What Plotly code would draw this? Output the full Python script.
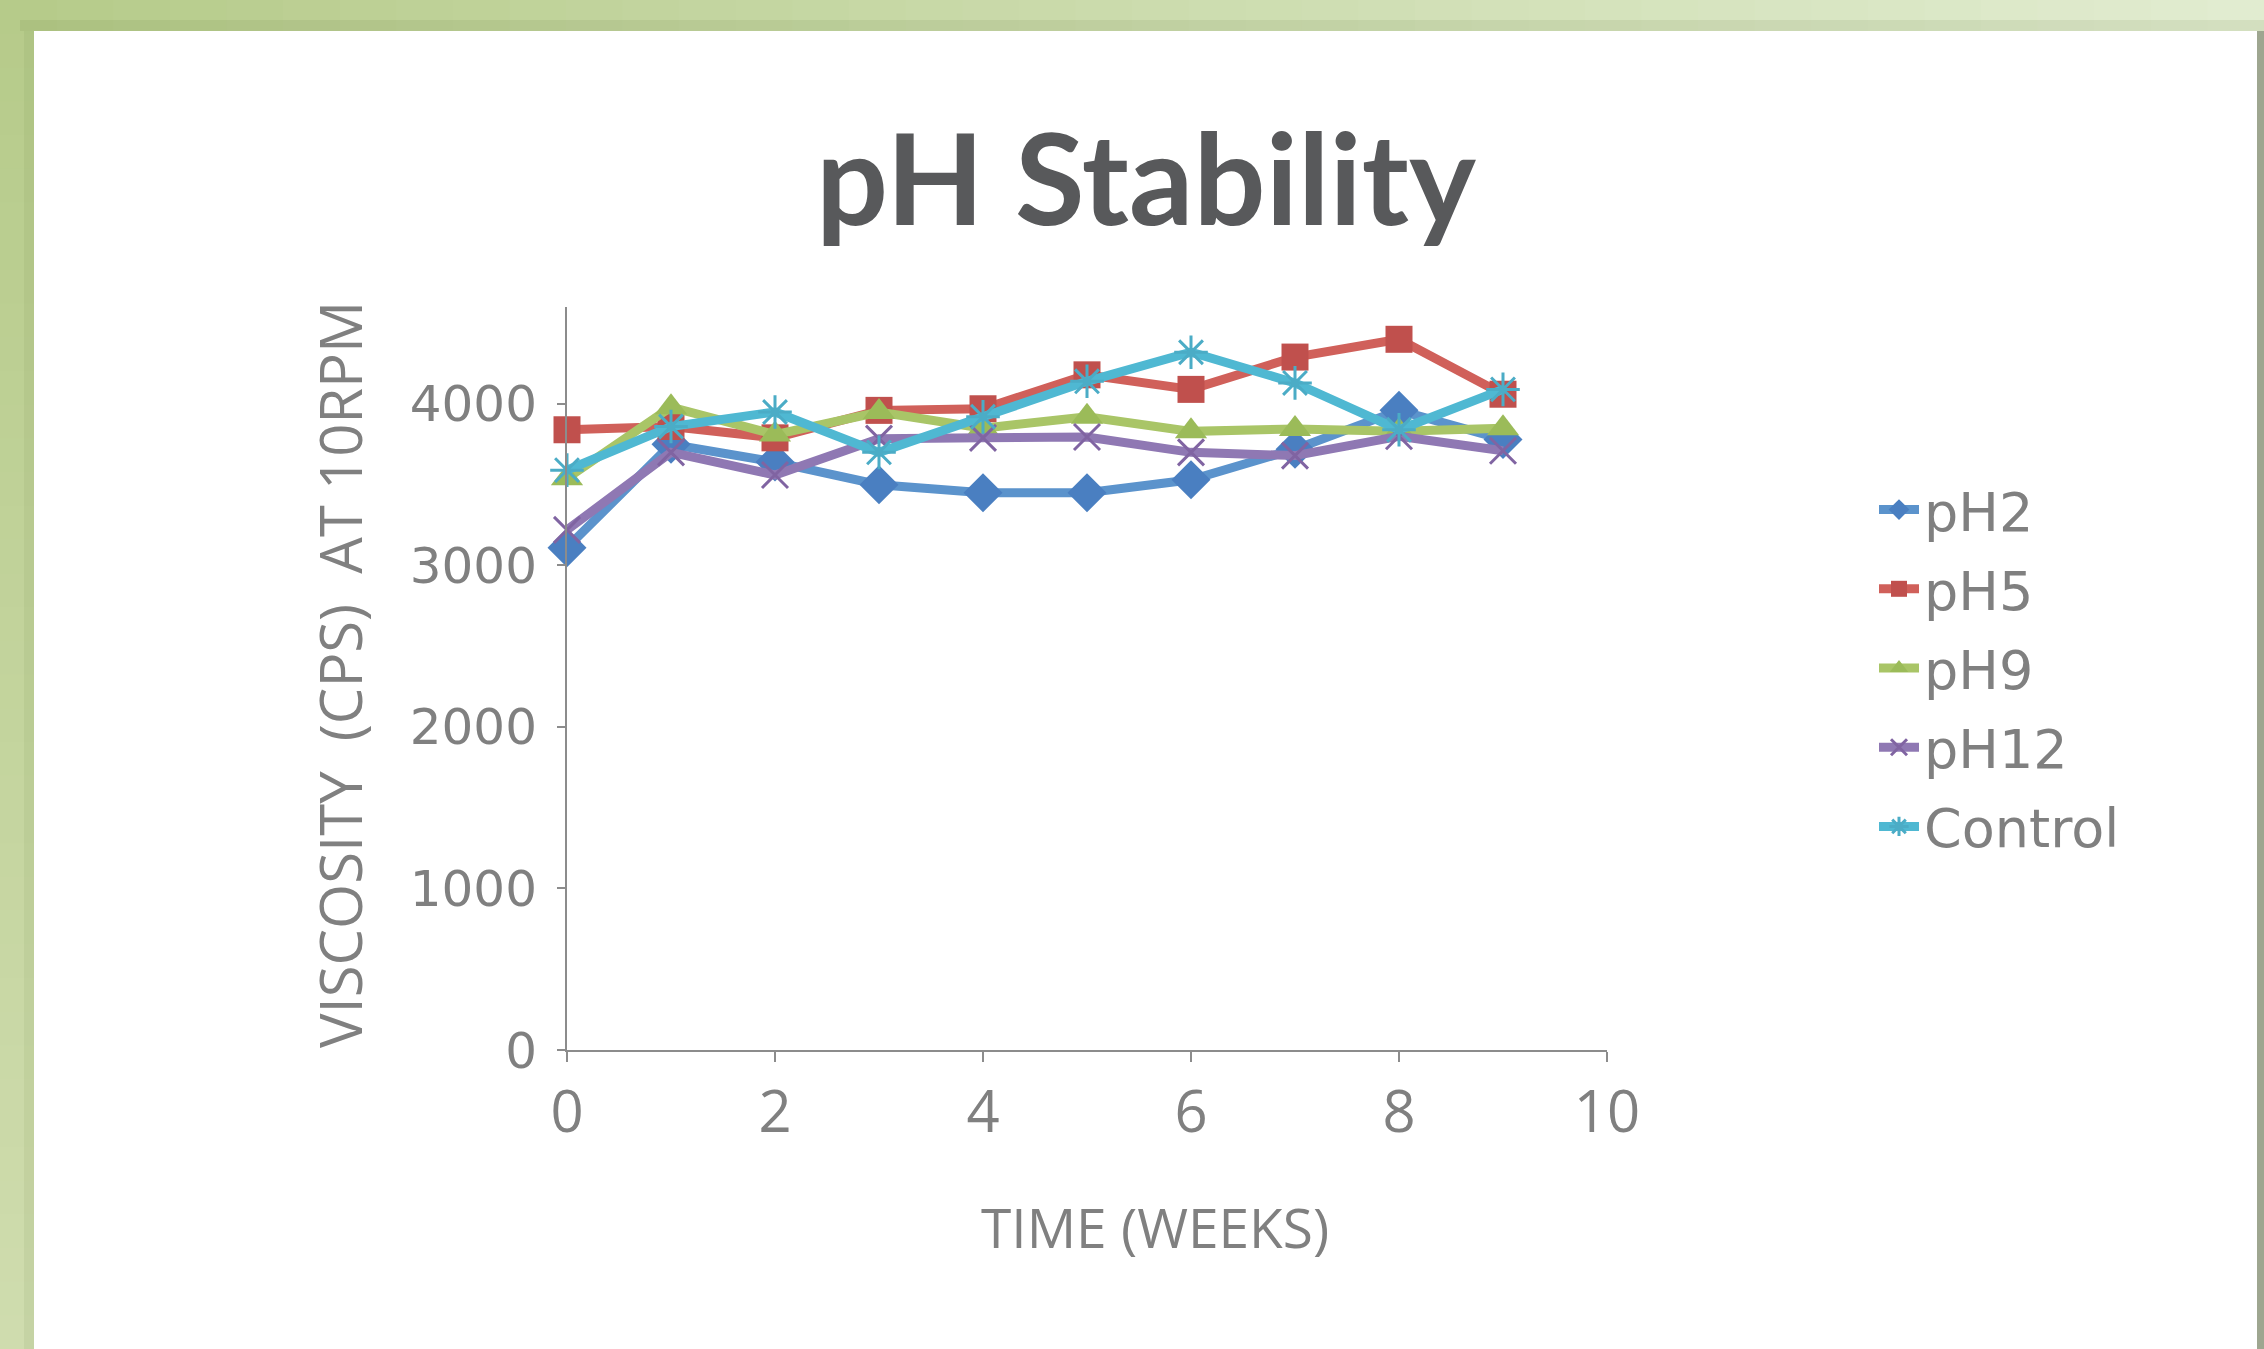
import plotly.graph_objects as go

# ---------------- data ----------------
weeks = [0, 1, 2, 3, 4, 5, 6, 7, 8, 9]
ph2 = [3110, 3750, 3640, 3500, 3450, 3450, 3530, 3720, 3960, 3780]
ph5 = [3840, 3860, 3790, 3960, 3970, 4180, 4090, 4290, 4400, 4060]
ph9 = [3540, 3980, 3810, 3950, 3850, 3920, 3830, 3845, 3830, 3850]
ph12 = [3220, 3700, 3560, 3785, 3790, 3795, 3700, 3680, 3800, 3710]
control = [3590, 3860, 3950, 3700, 3920, 4140, 4320, 4130, 3840, 4090]
series_names = ["pH2", "pH5", "pH9", "pH12", "Control"]
y_ticks = [0, 1000, 2000, 3000, 4000]
x_ticks = [0, 2, 4, 6, 8, 10]

W, H = 2264, 1349
PL, PR, PT, PB = 567, 1607, 307, 1050  # plot area in pixels


def px(xp):
    return (xp - PL) / (PR - PL)


def py(yp):
    return (PB - yp) / (PB - PT)


def lerp(c1, c2, t):
    return "rgb(%d,%d,%d)" % tuple(round(a + (b - a) * t) for a, b in zip(c1, c2))


styles = [
    dict(line="#5b93cc", mk="#4a7fc1", symbol="diamond", size=30, lw=0),
    dict(line="#d0605a", mk="#c0504d", symbol="square", size=27, lw=0),
    dict(line="#a9c567", mk="#9bbb59", symbol="triangle-up", size=28, lw=0),
    dict(line="#8f78b3", mk="#8064a2", symbol="x-thin-open", size=26, lw=3),
    dict(line="#4fb8d2", mk="#4bacc6", symbol="asterisk-open", size=28, lw=3),
]

fig = go.Figure()
for name, vals, st in zip(series_names, [ph2, ph5, ph9, ph12, control], styles):
    marker = dict(symbol=st["symbol"], size=st["size"], color=st["mk"])
    if st["lw"]:
        marker["line"] = dict(color=st["mk"], width=st["lw"])
    fig.add_trace(go.Scatter(
        x=weeks, y=vals, name=name, mode="lines+markers",
        line=dict(color=st["line"], width=9),
        marker=marker, cliponaxis=False, legendgroup=name,
    ))

# ---------------- background frame ----------------
shapes = []
shapes.append(dict(type="rect", xref="paper", yref="paper", layer="below",
                   x0=px(0), x1=px(W), y0=py(0), y1=py(H),
                   fillcolor="#c6d6a0", line=dict(width=0)))
n = 40
c_left, c_right = (182, 203, 138), (225, 236, 208)
for i in range(n):
    x0 = W * i / n
    x1 = W * (i + 1) / n + 1
    shapes.append(dict(type="rect", xref="paper", yref="paper", layer="below",
                       x0=px(x0), x1=px(x1), y0=py(0), y1=py(32),
                       fillcolor=lerp(c_left, c_right, i / (n - 1)), line=dict(width=0)))
c_top, c_bot = (182, 203, 138), (207, 220, 174)
for i in range(n):
    y0 = H * i / n
    y1 = H * (i + 1) / n + 1
    shapes.append(dict(type="rect", xref="paper", yref="paper", layer="below",
                       x0=px(0), x1=px(35), y0=py(y0), y1=py(y1),
                       fillcolor=lerp(c_top, c_bot, i / (n - 1)), line=dict(width=0)))
shapes.append(dict(type="rect", xref="paper", yref="paper", layer="below",
                   x0=px(20), x1=px(W), y0=py(20), y1=py(31),
                   fillcolor="rgba(90,110,50,0.10)", line=dict(width=0)))
shapes.append(dict(type="rect", xref="paper", yref="paper", layer="below",
                   x0=px(24), x1=px(34), y0=py(31), y1=py(H),
                   fillcolor="rgba(90,110,50,0.08)", line=dict(width=0)))
shapes.append(dict(type="rect", xref="paper", yref="paper", layer="below",
                   x0=px(2257), x1=px(W), y0=py(31), y1=py(H),
                   fillcolor="#9ea690", line=dict(width=0)))
shapes.append(dict(type="rect", xref="paper", yref="paper", layer="below",
                   x0=px(34), x1=px(2257), y0=py(31), y1=py(H + 2),
                   fillcolor="#ffffff", line=dict(width=0)))

axis_grey = "#8c8c8c"
text_grey = "#808080"

annotations = [
    dict(text="<b>pH Stability</b>", xref="paper", yref="paper",
         x=px(1146), y=py(176), xanchor="center", yanchor="middle",
         showarrow=False, font=dict(family="Lato", size=127, color="#58595b")),
    dict(text="TIME (WEEKS)", xref="paper", yref="paper",
         x=px(1155), y=py(1226), xanchor="center", yanchor="middle",
         showarrow=False, font=dict(family="Open Sans", size=55, color=text_grey)),
    dict(text="VISCOSITY\u00a0\u00a0(CPS)\u00a0\u00a0AT 10RPM", xref="paper", yref="paper",
         x=px(339), y=py(675), xanchor="center", yanchor="middle", textangle=-90,
         showarrow=False, font=dict(family="Open Sans", size=58, color=text_grey)),
]

fig.update_layout(
    width=W, height=H, autosize=False,
    margin=dict(l=PL, r=W - PR, t=PT, b=H - PB, autoexpand=False),
    paper_bgcolor="#ffffff", plot_bgcolor="rgba(0,0,0,0)",
    shapes=shapes, annotations=annotations,
    showlegend=True,
    legend=dict(x=px(1874), y=py(468), xanchor="left", yanchor="top",
                font=dict(family="DejaVu Sans", size=54, color=text_grey),
                bgcolor="rgba(0,0,0,0)", tracegroupgap=6, traceorder="grouped",
                itemwidth=40),
    xaxis=dict(range=[0, 10], tickvals=x_ticks, showgrid=False, zeroline=False,
               showline=True, linecolor=axis_grey, linewidth=2,
               ticks="outside", ticklen=10, tickcolor=axis_grey, tickwidth=2,
               ticklabelstandoff=0,
               tickfont=dict(family="Open Sans", size=58, color=text_grey)),
    yaxis=dict(range=[0, 4600], tickvals=y_ticks, showgrid=False, zeroline=False,
               showline=True, linecolor=axis_grey, linewidth=2,
               ticks="outside", ticklen=8, tickcolor=axis_grey, tickwidth=2,
               ticklabelstandoff=10,
               tickfont=dict(family="DejaVu Sans", size=50, color=text_grey)),
)

fig.write_html("out.html", config={"displayModeBar": False},
               post_script="document.body.style.margin='0';")
